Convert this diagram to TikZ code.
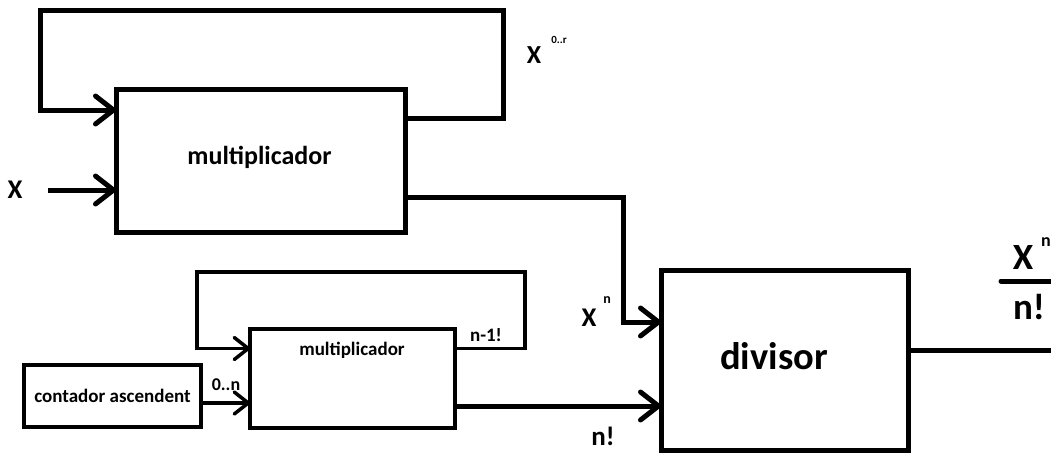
\documentclass[tikz,border=0pt]{standalone}
\usepackage{fontspec}
\setmainfont{Carlito}
\usetikzlibrary{arrows.meta}
\newcommand{\fs}[1]{\fontsize{#1}{#1}\selectfont\bfseries}
\tikzset{
  blk/.style={draw, line width=#1, inner sep=0pt, outer sep=0pt},
  bigarr/.style={line width=5pt, -{Straight Barb[length=18pt,width=28pt,line cap=round,round]}},
  smallarr/.style={line width=3.5pt, -{Straight Barb[length=14pt,width=22pt,line cap=round,round]}},
  wire/.style={line width=#1},
  txt/.style={inner sep=0pt, font=\fs{#1}}
}
\begin{document}
\begin{tikzpicture}[x=1pt,y=-1pt]
\useasboundingbox (0,0) rectangle (1051,459);
% top multiplier
\node[blk=5pt, minimum width=289pt, minimum height=143pt] (m1) at (260.5,160.5) {};
\node[txt=26] (m1t) at (259.5,157) {multiplicador};
% divisor
\node[blk=5pt, minimum width=247pt, minimum height=180pt] (div) at (784.5,360) {};
\node[txt=38.5] (divt) at (774,356) {divisor};
% bottom multiplier
\node[blk=3.5pt, minimum width=205pt, minimum height=99pt] (m2) at (352.5,378.5) {};
\node[txt=19] (m2t) at (352,350) {multiplicador};
% counter
\node[blk=4.5pt, minimum width=177pt, minimum height=62pt, font=\fs{19}] (cnt) at (112.5,396) {contador ascendent};

% labels
\node[txt=27] (xin) at (15,190) {X};
\node[txt=26] (xr) at (534,55) {X};
\node[txt=11] (xrs) at (559,40) {0..r};
\node[txt=27] (xn) at (589,318) {X};
\node[txt=14] (xns) at (607,300) {n};
\node[txt=27] (nf) at (603,436) {n!};
\node[txt=19] (n1) at (486,335) {n-1!};
\node[txt=18] (zn) at (226,385) {0..n};
\node[txt=37] (fx) at (1023,257) {X};
\node[txt=18] (fxs) at (1046,242) {n};
\node[txt=37] (fd) at (1029,307) {n!};
\draw[line width=5pt, line cap=round] (1001,281) -- (1051,281);

% top feedback loop
\coordinate (t1) at (503,118);
\coordinate (t2) at (503,10);
\coordinate (t3) at (40,10);
\coordinate (t4) at (40,110);
\draw[bigarr] (m1.east |- t1) -- (t1) -- (t2) -- (t3) -- (t4) -- (m1.west |- t4);
% x input
\coordinate (xs) at (48,190);
\draw[bigarr] (xs) -- (m1.west |- xs);
% m1 -> divisor
\coordinate (o1) at (623,197);
\coordinate (o2) at (623,322);
\draw[bigarr] (m1.east |- o1) -- (o1) -- (o2) -- (div.west |- o2);
% divisor output
\coordinate (dout) at (1051,350);
\draw[wire=5pt] (div.east |- dout) -- (dout);

% bottom loop
\coordinate (b1) at (525,348.5);
\coordinate (b2) at (525,272);
\coordinate (b3) at (197,272);
\coordinate (b4) at (197,348.5);
\draw[smallarr] (m2.east |- b1) -- (b1) -- (b2) -- (b3) -- (b4) -- (m2.west |- b4);
% counter -> m2
\coordinate (c1) at (201,403);
\draw[smallarr] (cnt.east |- c1) -- (m2.west |- c1);
% m2 -> divisor
\coordinate (d1) at (455,406);
\draw[bigarr] (m2.east |- d1) -- (div.west |- d1);
\end{tikzpicture}
\end{document}
